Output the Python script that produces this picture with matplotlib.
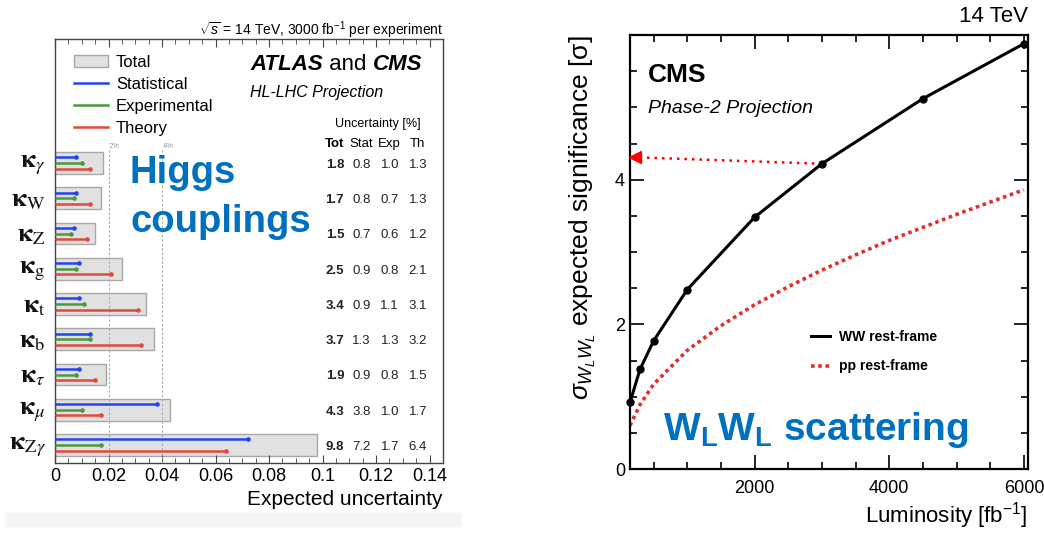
import numpy as np
import matplotlib.pyplot as plt
from matplotlib.patches import Patch, Rectangle
from matplotlib.lines import Line2D
from matplotlib.ticker import MultipleLocator

plt.rcParams['font.family'] = ['Liberation Sans', 'DejaVu Sans']
plt.rcParams['mathtext.fontset'] = 'custom'
plt.rcParams['mathtext.rm'] = 'Liberation Sans'
plt.rcParams['mathtext.it'] = 'Liberation Sans:italic'
plt.rcParams['mathtext.bf'] = 'Liberation Sans:bold'

# Higgs couplings, HL-LHC projection (uncertainties in %)
couplings = [r"$\mathbf{\kappa}_\gamma$", r"$\mathbf{\kappa}_\mathrm{W}$", r"$\mathbf{\kappa}_\mathrm{Z}$",
             r"$\mathbf{\kappa}_\mathrm{g}$", r"$\mathbf{\kappa}_\mathrm{t}$", r"$\mathbf{\kappa}_\mathrm{b}$",
             r"$\mathbf{\kappa}_\tau$", r"$\mathbf{\kappa}_\mu$", r"$\mathbf{\kappa}_{\mathrm{Z}\gamma}$"]
unc_tot = [1.8, 1.7, 1.5, 2.5, 3.4, 3.7, 1.9, 4.3, 9.8]
unc_stat = [0.8, 0.8, 0.7, 0.9, 0.9, 1.3, 0.9, 3.8, 7.2]
unc_exp = [1.0, 0.7, 0.6, 0.8, 1.1, 1.3, 0.8, 1.0, 1.7]
unc_th = [1.3, 1.3, 1.2, 2.1, 3.1, 3.2, 1.5, 1.7, 6.4]
xtick_vals = [0, 0.02, 0.04, 0.06, 0.08, 0.1, 0.12, 0.14]
xtick_labels = ["0", "0.02", "0.04", "0.06", "0.08", "0.1", "0.12", "0.14"]

# W_L W_L scattering significance vs integrated luminosity
lumi_ww = [150, 300, 500, 1000, 2000, 3000, 4500, 6000]
sig_ww = [0.92, 1.38, 1.77, 2.48, 3.48, 4.22, 5.12, 5.88]
lumi_pp = [150, 300, 500, 1000, 1500, 2000, 2500, 3000, 3500, 4000, 4500, 5000, 5500, 6000]
sig_pp = [0.60, 0.89, 1.17, 1.64, 1.98, 2.27, 2.52, 2.75, 2.96, 3.16, 3.34, 3.52, 3.69, 3.86]
arrow_lumi = [3000, 230]
arrow_sig = [4.22, 4.31]

BLUE = '#2244ee'
GREEN = '#4c9a3c'
RED = '#e04a3c'
HL = '#0070c0'


def draw_couplings(fig):
    ax = fig.add_axes([0.0527, 0.1313, 0.3716, 0.7955])
    y = np.arange(len(couplings))
    tot = np.array(unc_tot) / 100
    stat = np.array(unc_stat) / 100
    exp = np.array(unc_exp) / 100
    th = np.array(unc_th) / 100

    ax.vlines([0.02, 0.04], -0.37, 8.6, colors='#aaaaaa', linestyles=(0, (2, 2)), lw=0.8, zorder=3)
    ax.text(0.0202, -0.47, "2%", fontsize=5.5, color='#999999', ha='left', va='center')
    ax.text(0.0402, -0.47, "4%", fontsize=5.5, color='#999999', ha='left', va='center')

    ax.barh(y, tot, height=0.62, color='#e1e1e1', edgecolor='#a8a8a8', lw=1, zorder=1)
    off = 0.16
    for vals, dy, col in [(stat, -off, BLUE), (exp, 0, GREEN), (th, off, RED)]:
        ax.hlines(y + dy, 0, vals, color=col, lw=1.8, zorder=4)
        ax.plot(vals, y + dy, 'o', color=col, ms=2.3, zorder=4)

    ax.set_xlim(0, 0.145)
    ax.set_ylim(8.51, -3.52)
    ax.set_yticks(y)
    ax.set_yticklabels([])
    for i, lab in enumerate(couplings):
        ax.text(-0.0035, i + 0.05, lab, fontsize=19, ha='right', va='center',
                math_fontfamily='stix', color='#111111')
    ax.set_xticks(xtick_vals)
    ax.set_xticklabels(xtick_labels)
    ax.xaxis.set_minor_locator(MultipleLocator(0.005))
    ax.tick_params(axis='x', which='both', direction='in', top=True, labelsize=13, color='#444444')
    ax.tick_params(axis='x', which='major', length=6)
    ax.tick_params(axis='x', which='minor', length=3.5)
    ax.tick_params(axis='y', length=0)
    for s in ax.spines.values():
        s.set_color('#444444')
        s.set_linewidth(1)
    ax.set_xlabel("Expected uncertainty", fontsize=15, loc='right', labelpad=4)

    handles = [Patch(facecolor='#e1e1e1', edgecolor='#a8a8a8', label='Total'),
               Line2D([], [], color=BLUE, lw=1.8, label='Statistical'),
               Line2D([], [], color=GREEN, lw=1.8, label='Experimental'),
               Line2D([], [], color=RED, lw=1.8, label='Theory')]
    ax.legend(handles=handles, loc='upper left', bbox_to_anchor=(0.05, 0.962), frameon=False,
              fontsize=12, borderpad=0, borderaxespad=0, labelspacing=0.42,
              handlelength=2.0, handletextpad=0.5)

    t1 = ax.text(0.503, 0.941, "ATLAS", transform=ax.transAxes, fontsize=16,
                 fontweight='bold', fontstyle='italic', va='center')
    t2 = ax.annotate(" and ", xy=(1, 0), xycoords=t1, fontsize=16, va='bottom')
    ax.annotate("CMS", xy=(1, 0), xycoords=t2, fontsize=16, fontweight='bold',
                fontstyle='italic', va='bottom')
    ax.text(0.0728, -2.01, "HL-LHC Projection", fontsize=11.5, fontstyle='italic', va='center')

    ax.text(0.1207, -1.1, "Uncertainty [%]", fontsize=9, ha='center', va='center')
    cols = [0.1046, 0.1146, 0.1251, 0.1356]
    for cx, name in zip(cols, ["Tot", "Stat", "Exp", "Th"]):
        ax.text(cx, -0.54, name, fontsize=9.5, ha='center', va='center',
                fontweight='bold' if name == "Tot" else 'normal')
    for i in range(len(couplings)):
        for j, vals in enumerate([unc_tot, unc_stat, unc_exp, unc_th]):
            ax.text(cols[j], i + 0.05, "%.1f" % vals[i], fontsize=9.5, ha='center', va='center',
                    fontweight='bold' if j == 0 else 'normal', color='#222222')

    fig.text(443 / 1044, 1 - 30 / 533, r"$\sqrt{s}$ = 14 TeV, 3000 fb$^{-1}$ per experiment",
             fontsize=10, ha='right', va='center')
    fig.text(130 / 1044, 1 - 183 / 533, "Higgs", fontsize=27.5, fontweight='bold', color=HL,
             ha='left', va='baseline')
    fig.text(130 / 1044, 1 - 232 / 533, "couplings", fontsize=27.5, fontweight='bold', color=HL,
             ha='left', va='baseline')
    fig.patches.append(Rectangle((5 / 1044, 1 - 526 / 533), 455 / 1044, 13 / 533,
                                 transform=fig.transFigure, color='#f4f4f4', zorder=0))
    return ax


def draw_scattering(fig):
    ax = fig.add_axes([0.6034, 0.12, 0.3812, 0.8143])
    ax.plot(lumi_pp, sig_pp, color='#e03030', lw=2.6, linestyle=(0, (1, 1)), zorder=2)
    ax.plot(lumi_ww, sig_ww, color='black', lw=2.2, marker='o', ms=5, zorder=3, clip_on=False)
    ax.plot(arrow_lumi, arrow_sig, color='red', lw=1.8, linestyle=(0, (1, 2)), zorder=2)
    ax.plot(arrow_lumi[-1], arrow_sig[-1], marker='<', color='red', ms=9, clip_on=False, zorder=4)

    ax.set_xlim(150, 6060)
    ax.set_ylim(0, 6)
    ax.set_xticks([2000, 4000, 6000])
    ax.set_yticks([0, 2, 4])
    ax.xaxis.set_minor_locator(MultipleLocator(500))
    ax.yaxis.set_minor_locator(MultipleLocator(0.5))
    ax.tick_params(which='both', direction='in', top=True, right=True, labelsize=13, width=1.2)
    ax.tick_params(which='major', length=10)
    ax.tick_params(which='minor', length=5)
    ax.tick_params(axis='x', pad=8)
    for s in ax.spines.values():
        s.set_linewidth(1.6)

    ax.set_xlabel(r"Luminosity [fb$^{-1}$]", fontsize=16, loc='right', labelpad=2)
    ax.set_ylabel(r"$\sigma_{W_L W_L}$ expected significance [σ]", fontsize=19,
                  loc='top', labelpad=12)

    handles = [Line2D([], [], color='black', lw=2.2, label='WW rest-frame'),
               Line2D([], [], color='#e03030', lw=2.6, linestyle=(0, (1, 1)), label='pp rest-frame')]
    ax.legend(handles=handles, loc='upper left', bbox_to_anchor=(0.455, 0.32), frameon=False,
              prop={'size': 10, 'weight': 'bold'}, handlelength=1.4, labelspacing=1.1,
              handletextpad=0.6, borderpad=0, borderaxespad=0)

    ax.text(0.045, 0.935, "CMS", transform=ax.transAxes, fontsize=19, fontweight='bold',
            va='top')
    ax.text(0.045, 0.85, "Phase-2 Projection", transform=ax.transAxes, fontsize=14,
            fontstyle='italic', va='top')
    fig.text(1028 / 1044, 1 - 17 / 533, "14 TeV", fontsize=16, ha='right', va='center')
    fig.text(663 / 1044, 1 - 440 / 533, r"$\mathbf{W_L W_L}$ scattering", fontsize=28,
             fontweight='bold', color=HL, ha='left', va='baseline')
    return ax


def main():
    fig = plt.figure(figsize=(10.44, 5.33), dpi=100)
    draw_couplings(fig)
    draw_scattering(fig)
    fig.savefig("out.png", dpi=100)


if __name__ == "__main__":
    main()
